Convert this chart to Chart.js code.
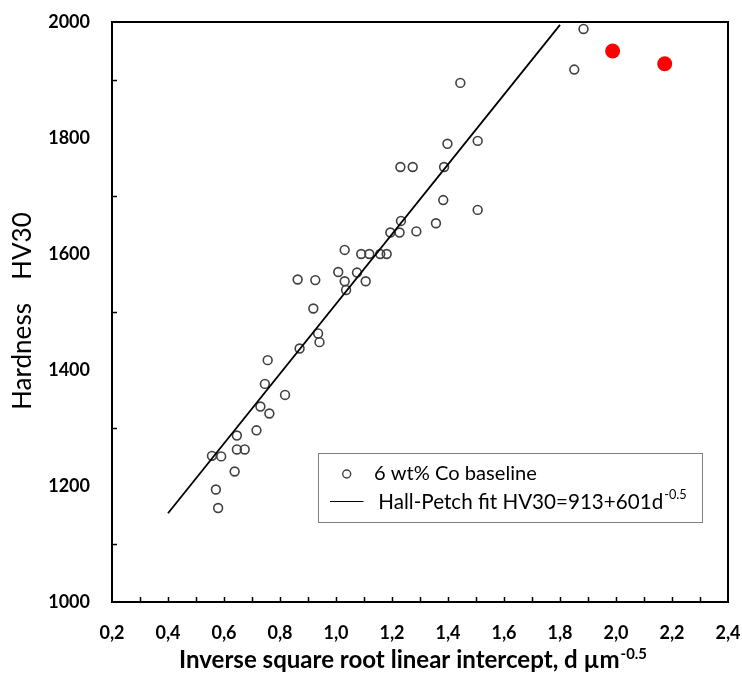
<!DOCTYPE html>
<html>
<head>
<meta charset="utf-8">
<script src="https://cdn.jsdelivr.net/npm/chart.js@4.4.1/dist/chart.umd.min.js"></script>
<style>
  html, body { margin: 0; padding: 0; background: #fff; }
  #wrap { width: 742px; height: 675px; }
</style>
</head>
<body>
<div id="wrap"><canvas id="chart" width="742" height="675"></canvas></div>
<script>
// 6 wt% Co baseline samples (d^-0.5, HV30)
const baselineX = [1.884, 1.851, 1.444, 1.398, 1.506, 1.230, 1.274, 1.386, 1.383, 1.506,
  1.357, 1.232, 1.194, 1.227, 1.287, 1.031, 1.090, 1.119, 1.158, 1.181,
  1.008, 1.075, 0.863, 0.926, 1.031, 1.106, 1.036, 0.919, 0.936, 0.941,
  0.870, 0.756, 0.746, 0.818, 0.730, 0.762, 0.716, 0.646, 0.646, 0.674,
  0.557, 0.590, 0.638, 0.571, 0.579];
const baselineY = [1988, 1918, 1895, 1790, 1795, 1750, 1750, 1750, 1693, 1676,
  1653, 1657, 1637, 1637, 1639, 1607, 1600, 1600, 1600, 1600,
  1569, 1568, 1556, 1555, 1553, 1553, 1538, 1506, 1463, 1448,
  1437, 1417, 1376, 1357, 1337, 1325, 1296, 1287, 1263, 1263,
  1252, 1251, 1225, 1194, 1162];

// the two red samples
const redX = [1.988, 2.174];
const redY = [1950, 1928];

// Hall-Petch fit HV30 = 913 + 601 d^-0.5, end points
const fitX = [0.4, 1.8];
const fitY = [1153, 1995];

const xMin = 0.2, xMax = 2.4;
const yMin = 1000, yMax = 2000;
const xTickLabels = ['0,2', '0,4', '0,6', '0,8', '1,0', '1,2', '1,4', '1,6', '1,8', '2,0', '2,2', '2,4'];
const yTickLabels = ['1000', '1200', '1400', '1600', '1800', '2000'];

const toPts = (xs, ys) => xs.map((x, i) => ({ x: x, y: ys[i] }));

const FONT = 'Lato, "Open Sans", sans-serif';

function fitSize(ctx, text, width, weight) {
  ctx.font = weight + ' 100px ' + FONT;
  return 100 * width / ctx.measureText(text).width;
}

// frame on top/right + inward tick marks
const framePlugin = {
  id: 'frame',
  afterDraw(chart) {
    const { ctx, chartArea: a, scales } = chart;
    ctx.save();
    ctx.strokeStyle = '#000';
    ctx.lineWidth = 2;
    ctx.strokeRect(a.left, a.top, a.right - a.left, a.bottom - a.top);
    ctx.lineWidth = 1.5;
    ctx.beginPath();
    scales.x.ticks.forEach(t => {
      const px = Math.round(scales.x.getPixelForValue(t.value)) + 0.5;
      if (t.value <= xMin + 0.01 || t.value >= xMax - 0.01) return;
      ctx.moveTo(px, a.bottom);
      ctx.lineTo(px, a.bottom - 5);
    });
    scales.y.ticks.forEach(t => {
      if (Math.round(t.value) % 200 === 0) return;
      const py = Math.round(scales.y.getPixelForValue(t.value)) + 0.5;
      ctx.moveTo(a.left, py);
      ctx.lineTo(a.left + 5, py);
    });
    ctx.stroke();
    ctx.restore();
  }
};

// axis titles and legend box
const textPlugin = {
  id: 'texts',
  afterDraw(chart) {
    const ctx = chart.ctx;
    ctx.save();
    ctx.fillStyle = '#000';

    // x title with superscript
    const xMain = 'Inverse square root linear intercept, d';
    let s = fitSize(ctx, xMain, 399, 'bold');
    ctx.font = 'bold ' + s + 'px ' + FONT;
    ctx.textBaseline = 'alphabetic';
    ctx.textAlign = 'left';
    ctx.fillText(xMain + ' \u00b5m', 179, 668);
    let w = ctx.measureText(xMain + ' \u00b5m').width;
    ctx.font = 'bold ' + (s * 0.62) + 'px ' + FONT;
    ctx.fillText('-0.5', 179 + w + 1, 659);

    // y title
    const ys = fitSize(ctx, 'Hardness', 107, 'normal');
    ctx.font = 'normal ' + ys + 'px ' + FONT;
    ctx.translate(31, 410);
    ctx.rotate(-Math.PI / 2);
    ctx.fillText('Hardness', 0, 0);
    ctx.fillText('HV30', 130, 0);
    ctx.setTransform(1, 0, 0, 1, 0, 0);

    // legend
    ctx.fillStyle = '#fff';
    ctx.fillRect(318.5, 453.5, 384, 69);
    ctx.strokeStyle = '#7f7f7f';
    ctx.lineWidth = 1;
    ctx.strokeRect(318.5, 453.5, 384, 69);

    ctx.strokeStyle = '#404040';
    ctx.lineWidth = 1.4;
    ctx.beginPath();
    ctx.arc(346.7, 474, 4, 0, Math.PI * 2);
    ctx.stroke();

    ctx.strokeStyle = '#000';
    ctx.lineWidth = 1;
    ctx.beginPath();
    ctx.moveTo(330, 501.5);
    ctx.lineTo(363.5, 501.5);
    ctx.stroke();

    ctx.fillStyle = '#000';
    ctx.textBaseline = 'middle';
    const l1 = '6 wt% Co baseline';
    ctx.font = 'normal ' + fitSize(ctx, l1, 163, 'normal') + 'px ' + FONT;
    ctx.fillText(l1, 374, 474);
    const l2 = 'Hall-Petch fit HV30=913+601d';
    const s2 = fitSize(ctx, l2, 285, 'normal');
    ctx.font = 'normal ' + s2 + 'px ' + FONT;
    ctx.fillText(l2, 378.3, 502);
    const w2 = ctx.measureText(l2).width;
    ctx.font = 'normal ' + (s2 * 0.62) + 'px ' + FONT;
    ctx.fillText('-0.5', 378.3 + w2 + 1, 495);
    ctx.restore();
  }
};

const data = {
  datasets: [
    {
      type: 'line',
      label: 'Hall-Petch fit HV30=913+601d-0.5',
      data: toPts(fitX, fitY),
      borderColor: '#000',
      borderWidth: 1.8,
      pointRadius: 0,
      fill: false,
      order: 0
    },
    {
      type: 'scatter',
      label: '6 wt% Co baseline',
      data: toPts(baselineX, baselineY),
      pointStyle: 'circle',
      pointRadius: 4.4,
      pointBorderWidth: 1.6,
      pointBorderColor: '#404040',
      pointBackgroundColor: 'rgba(0,0,0,0)',
      order: 1
    },
    {
      type: 'scatter',
      label: 'red',
      data: toPts(redX, redY),
      pointRadius: 7.5,
      pointBorderWidth: 0,
      pointBackgroundColor: '#ff0000',
      order: 2
    }
  ]
};

const options = {
  responsive: false,
  animation: false,
  devicePixelRatio: 1,
  layout: { padding: { left: 0, top: 22, right: 14, bottom: 0 } },
  plugins: { legend: { display: false }, tooltip: { enabled: false } },
  scales: {
    x: {
      type: 'linear',
      min: xMin,
      max: xMax,
      grid: { display: false, drawTicks: false },
      border: { display: true, color: '#000', width: 2 },
      ticks: {
        stepSize: 0.1,
        autoSkip: false,
        maxRotation: 0,
        padding: 20,
        color: '#000',
        font: { family: FONT, size: 18, weight: 'bold' },
        callback: v => {
          const i = Math.round((v - xMin) / 0.2 * 100) / 100;
          return Number.isInteger(i) ? xTickLabels[i] : '';
        }
      },
      afterFit: s => {
        s.height = 73;
        s.paddingLeft = 0;
        s.paddingRight = 0;
      }
    },
    y: {
      type: 'linear',
      min: yMin,
      max: yMax,
      grid: { display: false, drawTicks: false },
      border: { display: true, color: '#000', width: 2 },
      ticks: {
        stepSize: 100,
        autoSkip: false,
        padding: 22,
        color: '#000',
        font: { family: FONT, size: 18, weight: 'bold' },
        callback: v => (Math.round(v) % 200 === 0 ? yTickLabels[(Math.round(v) - yMin) / 200] : '')
      },
      afterFit: s => {
        s.width = 112;
        s.paddingTop = 0;
        s.paddingBottom = 0;
      }
    }
  }
};

new Chart(document.getElementById('chart'), {
  data: data,
  options: options,
  plugins: [framePlugin, textPlugin]
});
</script>
</body>
</html>
